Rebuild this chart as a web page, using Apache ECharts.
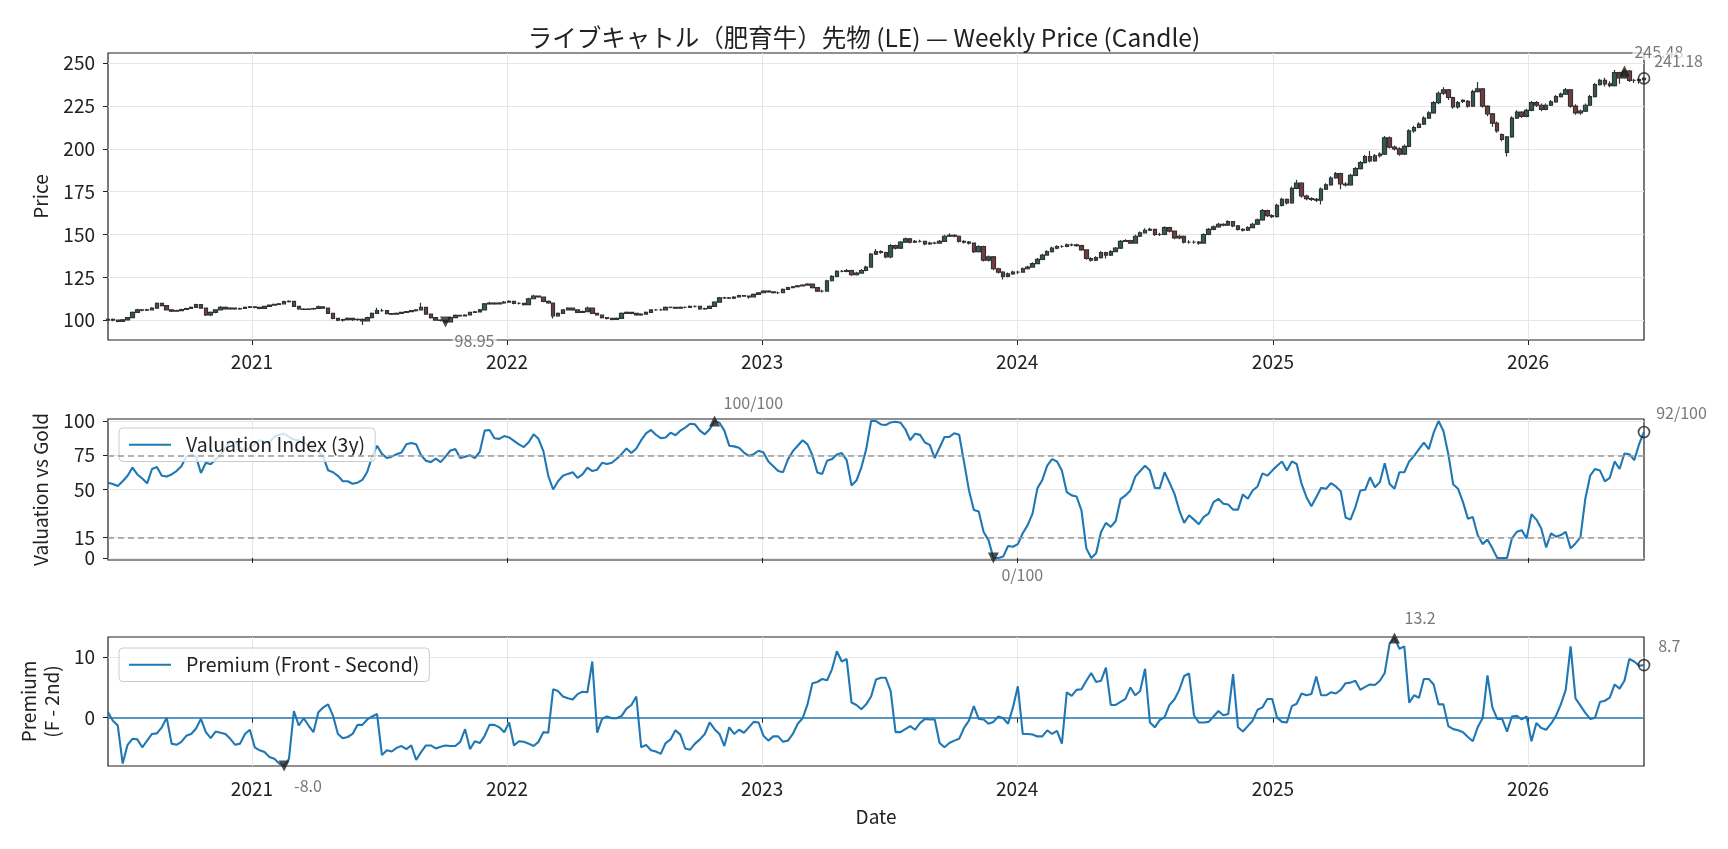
<!DOCTYPE html>
<html><head><meta charset="utf-8">
<script src="https://cdn.jsdelivr.net/npm/echarts@6/dist/echarts.min.js"></script>
<style>html,body{margin:0;padding:0;background:#fff}#c{width:1728px;height:849px}</style>
</head><body><div id="c"></div>
<script>
// ---------------- DATA ----------------
const startDate = '2020-06-09';   // first weekly bar
const nWeeks = 315;
const yearTicks = ['2021-01-01','2022-01-01','2023-01-01','2024-01-01','2025-01-01','2026-01-01'];
const priceTicks = [100,125,150,175,200,225,250];
const valTicks = [0,15,50,75,100];
const premTicks = [0,10];
const valBands = [75,15];

const openP = [
100.0,100.5,100.0,99.3,100.2,101.5,104.5,106.0,105.8,106.0,
107.0,109.8,108.5,106.0,105.2,105.5,106.2,106.8,107.5,109.0,
107.0,103.0,104.5,106.0,107.5,106.5,107.0,106.5,106.8,107.5,
107.8,107.5,106.8,108.0,108.8,109.2,109.5,110.8,111.0,108.0,
106.5,106.3,106.5,106.8,107.8,107.0,104.0,101.0,100.0,100.3,
101.0,100.3,100.5,99.5,101.5,104.0,105.5,105.5,103.8,103.5,
104.0,104.5,105.0,105.5,106.0,107.5,103.5,101.5,100.0,99.8,
98.95,101.5,102.8,102.5,103.0,104.5,104.8,106.0,109.5,110.0,
109.5,110.0,110.5,111.0,109.8,109.8,109.0,112.5,114.0,113.5,
111.0,110.0,102.5,104.0,106.0,107.0,106.0,104.5,105.0,107.0,
104.0,103.0,101.5,101.0,100.5,101.0,104.0,104.5,104.0,103.0,
103.5,104.5,106.0,106.0,106.0,107.5,107.5,107.0,107.5,107.5,
108.0,108.0,106.5,106.8,108.0,110.5,113.0,113.0,112.8,113.5,
114.3,114.0,113.5,115.0,116.0,117.0,116.5,116.0,116.0,118.0,
119.0,119.5,120.0,120.5,121.0,119.0,117.0,117.0,123.0,125.5,
128.5,128.5,129.0,126.5,127.5,129.0,131.0,138.5,140.0,139.5,
137.0,143.5,142.0,145.5,147.5,145.5,146.0,146.0,144.5,145.0,
145.0,146.0,149.0,149.5,149.0,146.0,145.5,145.0,140.0,143.0,
135.0,137.0,130.0,128.0,125.5,127.0,128.0,128.0,130.0,131.0,
133.0,135.5,138.0,140.0,142.0,143.0,143.0,144.0,144.0,143.5,
141.0,136.0,135.0,136.5,139.5,138.0,140.0,142.0,146.0,146.5,
145.0,149.0,151.0,152.5,153.0,150.0,150.0,154.0,152.0,148.0,
149.0,145.5,145.5,145.5,145.0,150.0,153.0,154.5,156.0,155.5,
157.5,155.0,153.0,152.5,154.0,156.0,158.5,164.0,161.0,160.5,
167.0,170.5,168.5,177.0,180.0,172.5,171.0,170.5,170.0,176.5,
179.0,183.0,185.5,179.5,179.0,184.5,188.5,192.0,195.5,193.0,
196.0,197.0,206.5,201.0,200.0,197.0,201.5,210.5,212.5,214.5,
218.0,221.0,227.0,232.5,234.5,230.0,224.5,228.3,227.8,225.0,
233.5,235.0,225.0,220.5,215.0,208.4,198.0,207.0,218.0,221.5,
219.0,222.5,227.0,225.5,223.0,225.5,227.5,230.5,232.0,234.5,
225.0,221.0,222.0,225.5,230.5,237.5,240.0,238.0,237.0,244.5,
241.5,245.48,240.0,240.0,240.5];

const closeP = [
100.5,100.0,99.3,100.2,101.5,104.5,106.0,105.8,106.0,107.0,
109.8,108.5,106.0,105.2,105.5,106.2,106.8,107.5,109.0,107.0,
103.0,104.5,106.0,107.5,106.5,107.0,106.5,106.8,107.5,107.8,
107.5,106.8,108.0,108.8,109.2,109.5,110.8,111.0,108.0,106.5,
106.3,106.5,106.8,107.8,107.0,104.0,101.0,100.0,100.3,101.0,
100.3,100.5,99.5,101.5,104.0,105.5,105.5,103.8,103.5,104.0,
104.5,105.0,105.5,106.0,107.5,103.5,101.5,100.0,99.8,98.95,
101.5,102.8,102.5,103.0,104.5,104.8,106.0,109.5,110.0,109.5,
110.0,110.5,111.0,109.8,109.8,109.0,112.5,114.0,113.5,111.0,
110.0,102.5,104.0,106.0,107.0,106.0,104.5,105.0,107.0,104.0,
103.0,101.5,101.0,100.5,101.0,104.0,104.5,104.0,103.0,103.5,
104.5,106.0,106.0,106.0,107.5,107.5,107.0,107.5,107.5,108.0,
108.0,106.5,106.8,108.0,110.5,113.0,113.0,112.8,113.5,114.3,
114.0,113.5,115.0,116.0,117.0,116.5,116.0,116.0,118.0,119.0,
119.5,120.0,120.5,121.0,119.0,117.0,117.0,123.0,125.5,128.5,
128.5,129.0,126.5,127.5,129.0,131.0,138.5,140.0,139.5,137.0,
143.5,142.0,145.5,147.5,145.5,146.0,146.0,144.5,145.0,145.0,
146.0,149.0,149.5,149.0,146.0,145.5,145.0,140.0,143.0,135.0,
137.0,130.0,128.0,125.5,127.0,128.0,128.0,130.0,131.0,133.0,
135.5,138.0,140.0,142.0,143.0,143.0,144.0,144.0,143.5,141.0,
136.0,135.0,136.5,139.5,138.0,140.0,142.0,146.0,146.5,145.0,
149.0,151.0,152.5,153.0,150.0,150.0,154.0,152.0,148.0,149.0,
145.5,145.5,145.5,145.0,150.0,153.0,154.5,156.0,155.5,157.5,
155.0,153.0,152.5,154.0,156.0,158.5,164.0,161.0,160.5,167.0,
170.5,168.5,177.0,180.0,172.5,171.0,170.5,170.0,176.5,179.0,
183.0,185.5,179.5,179.0,184.5,188.5,192.0,195.5,193.0,196.0,
197.0,206.5,201.0,200.0,197.0,201.5,210.5,212.5,214.5,218.0,
221.0,227.0,232.5,234.5,230.0,224.5,227.0,227.8,225.0,233.5,
235.0,225.0,220.5,215.0,210.5,205.5,207.0,218.0,221.5,219.0,
222.5,227.0,225.5,223.0,225.5,227.5,230.5,232.0,234.5,225.0,
221.0,222.0,225.5,230.5,237.5,240.0,238.0,237.0,244.5,241.5,
245.48,240.0,240.0,240.5,241.18];

const highP = [
101.0,100.9,100.3,100.6,101.9,105.0,106.6,106.5,106.7,107.5,
110.3,110.2,108.9,106.4,106.0,106.6,107.2,108.0,109.6,109.4,
107.3,105.0,106.4,108.3,107.9,107.5,107.4,107.3,107.9,108.2,
108.1,107.8,108.4,109.2,109.6,110.0,111.3,111.6,111.3,108.3,
106.9,106.9,107.3,108.5,108.1,107.3,104.3,101.3,100.8,101.6,
101.3,101.0,100.9,102.0,104.4,107.2,106.6,105.8,104.2,104.5,
104.9,105.4,105.9,106.4,110.2,107.8,103.8,101.8,100.5,100.2,
102.0,103.3,103.2,103.5,104.9,105.3,106.5,110.0,110.8,110.4,
110.6,111.2,111.6,111.3,110.4,110.2,113.0,114.8,114.4,113.8,
111.5,110.3,104.5,106.4,107.5,107.3,106.3,105.6,108.0,107.3,
104.3,103.3,101.9,101.4,101.5,104.5,105.0,104.9,104.3,104.0,
105.0,106.4,106.5,106.6,107.9,108.0,107.8,108.0,108.0,108.5,
108.6,108.3,107.3,108.5,111.0,113.5,113.6,113.5,114.0,114.8,
114.7,114.3,115.5,116.5,117.5,117.4,116.9,116.7,118.5,119.5,
120.0,120.5,121.0,121.6,121.3,119.3,117.8,123.6,126.2,129.2,
129.3,129.8,129.4,128.2,129.8,131.8,139.2,141.5,140.8,139.9,
144.5,144.0,146.2,148.3,147.9,146.8,146.9,146.4,145.8,145.8,
146.8,149.8,150.8,150.2,149.4,146.6,146.2,145.4,143.8,143.4,
137.8,137.4,130.6,128.5,127.8,128.9,128.8,130.8,131.8,133.8,
136.3,138.8,140.8,142.8,143.7,143.8,144.8,144.8,144.6,144.0,
141.4,136.7,137.3,140.3,139.9,140.8,142.7,146.8,147.3,146.9,
149.8,151.8,153.6,154.0,153.4,151.0,154.8,154.6,152.4,149.8,
149.4,146.7,146.5,146.2,150.8,153.8,155.3,156.8,156.6,158.3,
157.9,155.5,153.6,154.8,156.8,159.4,164.9,164.5,161.8,167.9,
171.5,171.0,178.0,182.0,180.5,173.2,171.8,171.3,177.4,180.0,
184.0,186.5,186.0,180.5,185.5,189.5,193.0,196.5,198.8,197.0,
198.0,207.5,207.2,202.0,201.0,202.5,211.5,213.5,215.5,219.0,
222.0,228.0,233.5,236.0,235.0,230.5,228.0,229.0,228.5,234.5,
239.0,235.5,225.5,221.0,216.0,209.0,207.5,219.0,222.5,222.0,
223.5,228.0,228.0,226.5,226.5,228.5,231.5,233.0,235.5,235.0,
226.0,223.0,226.5,231.5,238.5,241.0,241.5,239.5,246.0,245.0,
246.5,246.0,241.0,241.5,242.0];

const lowP = [
99.5,99.4,98.8,99.0,99.9,101.2,104.2,105.2,105.4,105.7,
106.8,108.0,105.6,104.8,104.9,105.2,105.9,106.5,107.2,106.6,
102.4,102.2,104.0,105.7,106.0,106.0,106.0,106.1,106.5,107.1,
107.0,106.4,106.5,107.7,108.4,108.8,109.2,110.3,107.6,106.0,
105.9,105.9,106.1,106.5,106.6,103.6,100.5,99.4,99.2,99.8,
99.5,99.7,97.2,99.2,101.2,103.7,104.9,103.4,103.0,103.1,
103.6,104.1,104.6,105.1,105.7,103.1,101.0,99.6,99.2,98.4,
98.7,101.2,102.0,102.1,102.7,104.1,104.5,105.7,109.0,109.0,
109.1,109.6,110.1,109.3,109.2,108.5,108.7,112.2,113.0,110.5,
109.5,101.0,102.0,103.7,105.6,105.5,104.0,104.1,104.7,103.6,
102.5,101.0,100.4,100.0,100.1,100.8,103.6,103.5,102.5,102.6,
103.2,104.2,105.5,105.5,105.7,107.0,106.5,106.7,107.0,107.2,
107.4,106.0,106.1,106.5,107.7,110.2,112.4,112.3,112.4,113.2,
113.6,112.5,113.2,114.7,115.7,116.0,115.5,115.2,115.7,117.7,
118.8,119.1,119.8,120.1,118.5,116.4,116.2,116.7,122.6,125.1,
127.9,128.0,125.8,126.0,127.1,128.6,130.6,138.0,138.8,136.2,
136.2,141.2,141.6,145.0,144.8,145.0,145.3,143.8,144.0,144.3,
144.6,145.6,148.6,148.4,145.4,144.8,144.2,139.2,139.5,134.2,
134.3,129.2,127.2,123.8,125.0,126.5,127.0,127.6,129.5,130.6,
132.6,135.0,137.6,139.5,141.4,142.2,142.6,143.2,142.8,140.5,
135.2,134.2,134.5,136.0,136.0,137.5,139.6,141.6,145.6,144.5,
144.6,148.5,150.6,152.0,149.2,149.2,149.6,151.2,147.2,147.3,
144.8,144.6,144.6,144.0,144.6,149.6,152.5,154.0,154.8,155.0,
154.3,152.3,151.7,152.0,153.6,155.6,158.0,160.2,159.6,160.0,
166.4,167.6,168.0,176.4,171.4,170.0,169.6,169.0,167.6,176.0,
178.5,182.5,176.5,178.0,178.5,184.0,188.0,191.5,192.0,192.5,
195.0,196.5,200.2,199.0,196.0,196.5,201.0,209.5,212.0,214.0,
217.5,220.5,226.0,231.5,228.5,223.5,223.5,226.8,224.0,224.5,
233.0,224.0,219.0,213.0,209.5,204.5,195.5,206.5,217.5,218.0,
218.5,222.0,224.5,222.0,222.5,225.0,227.0,230.0,231.5,224.0,
220.0,220.0,221.5,225.0,230.0,237.0,236.5,236.0,236.5,238.0,
241.0,239.0,238.5,238.0,238.5];

const valuation = [
55,54,52.5,56,60,66,61,58,54.5,65,
66.5,60,59.5,61,63.5,67,74,75.5,74,62,
69.5,68.5,72,75,80.5,85.5,84.5,80.5,78.5,80.5,
83,86,85,84.3,88.5,90,90.8,88.5,86.5,86,
84.3,82,79.5,77.5,74,64,62.6,60,56,56,
54.2,55,57,63,74,82,76,73,74,75.8,
77,83,84,83,75,71,70,72.5,70,74,
78.5,79.5,73,74,75,73,77.5,93,93.5,87.5,
87,89,88,85.5,83,81,84.5,90.3,87,78,
60,50,56,60,61.4,62.6,58.5,61,66,63.5,
64.5,69.5,68.6,69.5,72.5,76,80,76.6,80,86,
91,93.5,90,87.5,88,91.5,89.6,93,95.2,98,
97.6,93,90.3,94,100,98.8,93,82,81.5,80.5,
77,74.6,75.8,78.3,77,70.5,67,63.5,62.6,72,
78,82,86,83,75,62.5,61.4,71,72.2,75.5,
76.6,71.5,53,56.5,66,79.5,100,100,97.5,97.1,
99,99.5,98.8,94,86,90.8,89.9,84.3,82.6,73,
80.7,88.4,88.4,91.1,90,70,49.5,35,34,19,
13,0,0,1,8.7,8.2,10.1,18,24,32.4,
51,57,67.4,72.2,70.5,63.8,48,45.7,44.9,34.8,
7,0,3.4,19,25.6,22.7,27,43,45.7,49.3,
59.4,63.5,67.4,63.8,51.2,51,62.6,55,47,34.8,
25.6,31.2,28,24.6,30,32.4,40.8,43.2,39.6,39.1,
35.3,35.3,46.4,43.2,49.3,52.2,61.8,60.1,63.8,67.4,
70.5,63.8,70.5,68.6,54.1,44.4,37.7,44.4,51.2,50.5,
54.6,52.2,48.8,29.5,28,37.2,49.3,49.8,58.9,51.7,
55.3,69.1,54.1,50.5,62.6,62.6,70.5,74.6,79.5,84.3,
79.5,91.5,100,92.8,75.8,53.6,50.5,40.8,28.7,29.9,
16.7,10.1,13.5,7,0,0,0,14.3,19.1,20.3,
14.3,31.9,28,21.5,7.7,17.9,15.5,16.7,19.1,7,
10.6,15,43.2,60.1,65,63.8,56,58.5,70.5,65,
76.3,75.8,71.5,83.1,92];

const premium = [
0.9,-0.5,-1.3,-7.6,-4.5,-3.5,-3.6,-4.9,-3.8,-2.7,
-2.6,-1.6,0.0,-4.3,-4.5,-4.0,-3.0,-2.7,-1.8,-0.2,
-2.4,-3.4,-2.3,-2.5,-2.7,-3.5,-4.5,-4.3,-2.7,-2.0,
-4.9,-5.4,-5.7,-6.5,-6.8,-7.6,-8.0,-6.8,1.1,-1.3,
-0.1,-1.3,-2.4,0.9,1.7,2.2,0.3,-2.7,-3.4,-3.2,
-2.7,-1.2,-1.2,-0.3,0.2,0.6,-6.2,-5.4,-5.6,-5.0,
-4.7,-5.2,-4.6,-7.0,-5.7,-4.6,-4.6,-5.1,-4.8,-4.6,
-4.7,-4.7,-4.0,-1.9,-5.2,-3.9,-4.2,-3.0,-1.2,-1.2,
-1.6,-2.4,-0.8,-4.6,-3.9,-4.0,-4.3,-4.7,-4.0,-2.4,
-2.5,4.7,4.4,3.5,3.2,3.0,3.9,4.3,4.2,9.3,
-2.5,-0.2,0.2,-0.1,-0.1,0.3,1.5,2.1,3.5,-4.9,
-4.5,-5.4,-5.6,-6.0,-4.2,-3.6,-2.1,-2.8,-5.1,-5.3,
-4.3,-3.6,-2.7,-0.8,-1.9,-2.7,-4.7,-1.6,-2.7,-2.0,
-2.5,-1.6,-0.7,-0.8,-3.0,-3.8,-3.1,-3.1,-4.0,-3.8,
-2.7,-1.0,-0.1,2.2,5.7,5.9,6.4,6.2,8.0,11.0,
9.3,9.7,2.5,2.1,1.4,2.2,3.5,6.3,6.6,6.6,
4.4,-2.4,-2.4,-1.9,-1.4,-2.0,-0.9,-0.2,-0.3,-0.3,
-4.2,-4.9,-4.2,-3.8,-3.5,-1.7,-0.5,1.9,-0.2,-0.3,
-1.0,-0.7,0.2,-0.1,-1.0,1.7,5.2,-2.7,-2.7,-2.8,
-3.1,-3.1,-2.1,-2.7,-2.2,-4.3,4.2,3.6,4.6,4.7,
6.1,7.4,5.9,6.1,8.3,2.1,2.1,2.6,3.1,5.0,
3.7,4.4,8.1,-0.8,-1.6,-0.4,0.1,2.1,3.0,4.6,
6.9,7.3,0.4,-0.8,-0.8,-0.7,0.2,1.1,0.4,0.6,
7.2,-1.6,-2.3,-1.4,-0.5,1.3,1.7,3.1,3.1,0.0,
-0.7,-0.8,1.9,2.3,4.0,3.7,3.9,6.8,3.7,3.7,
4.2,4.0,4.6,5.7,5.8,6.1,4.6,5.1,5.5,5.4,
6.1,7.4,12.3,13.2,11.4,11.8,2.5,3.7,3.3,6.4,
6.4,5.5,2.2,2.2,-1.4,-1.9,-2.1,-2.4,-3.2,-3.9,
-1.6,-0.1,7.0,1.7,-0.2,-0.2,-2.3,0.2,0.3,-0.3,
0.2,-3.9,-0.9,-1.7,-2.0,-1.0,0.3,2.2,4.6,11.8,
3.2,2.0,0.8,-0.2,0.0,2.6,2.8,3.3,5.5,4.8,
6.1,9.7,9.3,8.6,8.7];

// ---------------- BUILD ----------------
const DAY = 86400000;
const t0 = Date.parse(startDate + 'T00:00:00Z');
const dates = [];
for (let i = 0; i < nWeeks; i++) dates.push(t0 + i * 7 * DAY);
const yearTs = yearTicks.map(s => Date.parse(s + 'T00:00:00Z'));

const candleData = dates.map((t, i) => [t, openP[i], closeP[i], lowP[i], highP[i]]);
const valData = dates.map((t, i) => [t, valuation[i]]);
const premData = dates.map((t, i) => [t, premium[i]]);

function argmax(a){let k=0;for(let i=1;i<a.length;i++) if(a[i]>a[k]) k=i;return k;}
function argmin(a){let k=0;for(let i=1;i<a.length;i++) if(a[i]<a[k]) k=i;return k;}
const last = nWeeks - 1;

const FONT = "'Noto Sans CJK JP', 'Noto Sans', sans-serif";
const TXT = '#222';
const GRIDC = '#e6e6e6';
const BLUE = '#1f77b4';
const L = 108, W = 1536;
const FS = 19;          // axis text size
const DOWN_TRI = 'path://M0,0 L10,0 L5,9 Z';
const UP_TRI = 'path://M5,0 L10,9 L0,9 Z';

function mk(i, v, kind, text, dx, dy) {
  const size = 11;
  let sym, style;
  if (kind === 'up') { sym = UP_TRI; style = {color:'#222'}; }
  else if (kind === 'down') { sym = DOWN_TRI; style = {color:'#222'}; }
  else { sym = 'circle'; style = {color:'rgba(255,255,255,0)', borderColor:'#222', borderWidth:1.7}; }
  return {
    value: [dates[i], v], symbol: sym, symbolSize: size, itemStyle: style,
    label: {show:true, formatter:text, position:[size/2 + dx, size/2 + dy], align:'left', verticalAlign:'middle',
      color:'#555', fontSize:16, fontFamily:FONT, backgroundColor:'rgba(255,255,255,0.85)', padding:[0,2]}
  };
}
function markerSeries(idx, pts) {
  return {type:'scatter', xAxisIndex:idx, yAxisIndex:idx, z:6, silent:true, clip:false, animation:false, data:pts};
}

const iMaxP = argmax(closeP), iMinP = argmin(closeP);
const iMaxV = argmax(valuation), iMinV = argmin(valuation);
const iMaxR = argmax(premium), iMinR = argmin(premium);

function xAxis(idx, showLabel, name, margin) {
  return {
    type:'value', gridIndex:idx, min:dates[0], max:dates[last],
    axisLine:{show:false},
    axisTick:{show:true, length:5, customValues:yearTs, lineStyle:{color:'#222', width:1}},
    axisLabel:{show:showLabel, customValues:yearTs, formatter:v => String(new Date(v).getUTCFullYear()),
      color:TXT, fontSize:FS, fontFamily:FONT, margin:margin || 12},
    splitLine:{show:true, lineStyle:{color:GRIDC, width:1}},
    name: name || '', nameLocation:'middle', nameGap:41,
    nameTextStyle:{color:TXT, fontSize:FS, fontFamily:FONT}
  };
}
function yAxis(idx, min, max, ticks, name, gap) {
  return {
    type:'value', gridIndex:idx, min:min, max:max,
    axisLine:{show:false},
    axisTick:{show:true, length:5, customValues:ticks, lineStyle:{color:'#222', width:1}},
    axisLabel:{customValues:ticks, color:TXT, fontSize:FS, fontFamily:FONT, margin:13},
    splitLine:{show:true, lineStyle:{color:GRIDC, width:1}},
    name:name, nameLocation:'middle', nameGap:gap, nameRotate:90,
    nameTextStyle:{color:TXT, fontSize:FS, fontFamily:FONT, align:'center', lineHeight:23}
  };
}
function legendAt(name, top) {
  return {data:[name], left:119, top:top, orient:'vertical', icon:'rect', itemWidth:42, itemHeight:2,
    backgroundColor:'rgba(255,255,255,0.8)', borderColor:'#cccccc', borderWidth:1, borderRadius:4, padding:[7,10,7,10],
    textStyle:{fontSize:19.5, color:TXT, fontFamily:FONT, padding:[0,0,0,10]}};
}

const option = {
  animation:false,
  backgroundColor:'#fff',
  textStyle:{fontFamily:FONT},
  title:{text:'ライブキャトル（肥育牛）先物 (LE) — Weekly Price (Candle)', left:'center', top:20,
    textStyle:{fontSize:24.5, fontWeight:'normal', color:TXT, fontFamily:FONT}},
  grid:[
    {left:L, top:53, width:W, height:287, show:true, borderColor:'#222', borderWidth:1.2, backgroundColor:'rgba(0,0,0,0)'},
    {left:L, top:419, width:W, height:141, show:true, borderColor:'#222', borderWidth:1.2, backgroundColor:'rgba(0,0,0,0)'},
    {left:L, top:637, width:W, height:129, show:true, borderColor:'#222', borderWidth:1.2, backgroundColor:'rgba(0,0,0,0)'}
  ],
  xAxis:[xAxis(0,true,'',12), xAxis(1,false), xAxis(2,true,'Date',13)],
  yAxis:[
    yAxis(0, 88.4, 256, priceTicks, 'Price', 52),
    yAxis(1, -1.5, 101.5, valTicks, 'Valuation vs Gold', 52),
    yAxis(2, -8.0, 13.35, premTicks, 'Premium\n(F - 2nd)', 41)
  ],
  legend:[legendAt('Valuation Index (3y)', 428), legendAt('Premium (Front - Second)', 648)],
  series:[
    {type:'candlestick', name:'Price', xAxisIndex:0, yAxisIndex:0, data:candleData, barWidth:4,
      itemStyle:{color:'#2d5f5a', color0:'#7a3c3c', borderColor:'#333333', borderColor0:'#333333', borderWidth:1.2}},
    {type:'line', name:'Valuation Index (3y)', xAxisIndex:1, yAxisIndex:1, data:valData, showSymbol:false,
      lineStyle:{color:BLUE, width:2.1}, itemStyle:{color:BLUE},
      markLine:{silent:true, symbol:'none', label:{show:false},
        lineStyle:{color:'#999', type:[6,4], width:1.5}, data:valBands.map(v => ({yAxis:v}))}},
    {type:'line', name:'Premium (Front - Second)', xAxisIndex:2, yAxisIndex:2, data:premData, showSymbol:false,
      lineStyle:{color:BLUE, width:2.1}, itemStyle:{color:BLUE},
      markLine:{silent:true, symbol:'none', label:{show:false},
        lineStyle:{color:BLUE, type:'solid', width:1.5}, data:[{yAxis:0}]}},
    markerSeries(0, [
      mk(iMaxP, closeP[iMaxP], 'up', closeP[iMaxP].toFixed(2), 8, -19),
      mk(iMinP, closeP[iMinP], 'down', closeP[iMinP].toFixed(2), 7, 19),
      mk(last, closeP[last], 'last', closeP[last].toFixed(2), 9, -17)
    ]),
    markerSeries(1, [
      mk(iMaxV, valuation[iMaxV], 'up', Math.round(valuation[iMaxV]) + '/100', 7, -18),
      mk(iMinV, valuation[iMinV], 'down', Math.round(valuation[iMinV]) + '/100', 6, 17),
      mk(last, valuation[last], 'last', Math.round(valuation[last]) + '/100', 11, -18)
    ]),
    markerSeries(2, [
      mk(iMaxR, premium[iMaxR], 'up', premium[iMaxR].toFixed(1), 8, -20),
      mk(iMinR, premium[iMinR], 'down', premium[iMinR].toFixed(1), 8, 20),
      mk(last, premium[last], 'last', premium[last].toFixed(1), 13, -18)
    ])
  ]
};
const chart = echarts.init(document.getElementById('c'), null, {renderer:'canvas', width:1728, height:849});
chart.setOption(option);
</script></body></html>
